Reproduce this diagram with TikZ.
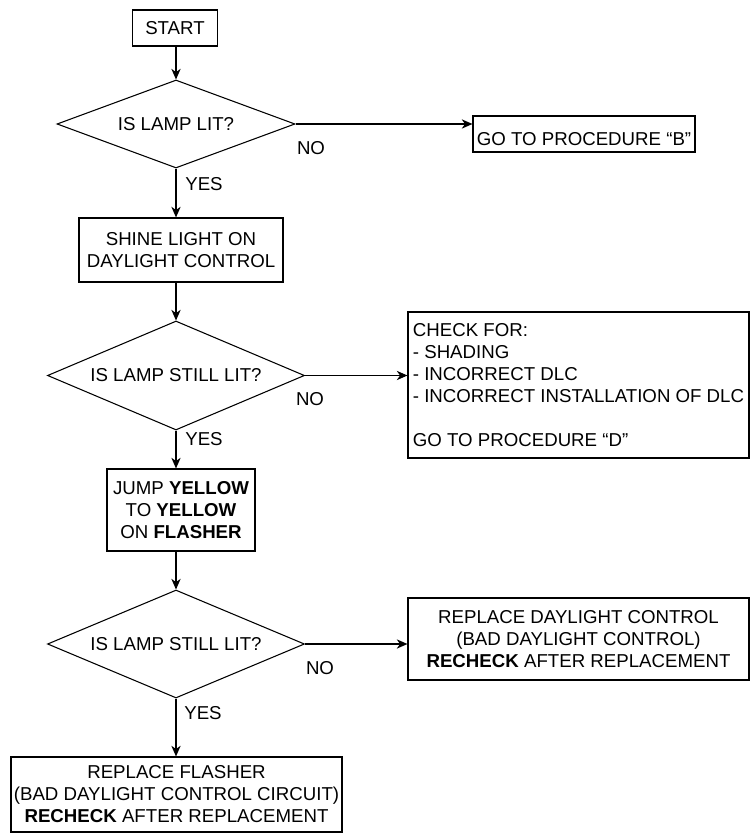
\documentclass[tikz,border=0pt]{standalone}
\usepackage{fontspec}
\setmainfont{Liberation Sans}
\usetikzlibrary{arrows.meta, calc, positioning, shapes.geometric}

\begin{document}
\begin{tikzpicture}[
  x=0.75pt, y=-0.75pt,
  every node/.style={font=\fontsize{14}{16.5}\selectfont, text=black},
  flow/.style={-{Stealth[length=8pt, width=7pt, inset=2.5pt]}, line width=0.8pt},
  stepbox/.style={draw, line width=0.9pt, align=center, inner sep=2pt},
  decision/.style={diamond, draw, line width=0.8pt, inner sep=0pt, align=center},
  answer/.style={inner sep=0pt}
]

\useasboundingbox (0,0) rectangle (750,837);

% start
\node[stepbox, minimum width=63.75pt, minimum height=27pt] (start) at (175,28) {START};

% first test
\node[decision, aspect=2.7, minimum width=178.5pt, minimum height=66pt] (lit) at (176,124) {IS LAMP LIT?};
\node[stepbox, text height=16.8pt, text depth=0pt, minimum width=166.5pt, minimum height=27pt] (procb) at (584,134)
  {GO TO PROCEDURE “B”};

% daylight control test
\node[stepbox, minimum width=153pt, minimum height=48pt] (shine) at (181,250)
  {SHINE LIGHT ON\\DAYLIGHT CONTROL};
\node[decision, aspect=2.36, minimum width=192.75pt, minimum height=81.75pt] (still) at (176,375.5)
  {IS LAMP STILL LIT?};
\node[stepbox, align=left, minimum width=255.75pt, minimum height=109.5pt] (check) at (578.5,385)
  {CHECK FOR:\\
   - SHADING\\
   - INCORRECT DLC\\
   - INCORRECT INSTALLATION OF DLC\\[16.5pt]
   GO TO PROCEDURE “D”};

% flasher test
\node[stepbox, minimum width=111pt, minimum height=61.5pt] (jump) at (181,510)
  {JUMP \textbf{YELLOW}\\TO \textbf{YELLOW}\\ON \textbf{FLASHER}};
\node[decision, aspect=2.38, minimum width=192.75pt, minimum height=81pt] (again) at (176,644)
  {IS LAMP STILL LIT?};
\node[stepbox, minimum width=255.75pt, minimum height=61.5pt] (newdlc) at (578.5,639)
  {REPLACE DAYLIGHT CONTROL\\(BAD DAYLIGHT CONTROL)\\\textbf{RECHECK} AFTER REPLACEMENT};
\node[stepbox, minimum width=248.25pt, minimum height=56.25pt] (newflash) at (176.5,794.5)
  {REPLACE FLASHER\\(BAD DAYLIGHT CONTROL CIRCUIT)\\\textbf{RECHECK} AFTER REPLACEMENT};

% yes / no labels
\node[answer] (no1) at (311,148) {NO};
\node[answer] (yes1) at (204,184) {YES};
\node[answer] (no2) at (310,399) {NO};
\node[answer] (yes2) at (204,439) {YES};
\node[answer] (no3) at (320,668) {NO};
\node[answer] (yes3) at (203,713) {YES};

% connectors
\draw[flow] (start.south -| lit.north) -- (lit.north);
\draw[flow] (lit.east) -- (lit.east -| procb.west);
\draw[flow] (lit.south) -- (lit.south |- shine.north);
\draw[flow] (shine.south -| still.north) -- (still.north);
\draw[flow] (still.east) -- (still.east -| check.west);
\draw[flow] (still.south) -- (still.south |- jump.north);
\draw[flow] (jump.south -| again.north) -- (again.north);
\draw[flow] (again.east) -- (again.east -| newdlc.west);
\draw[flow] (again.south) -- (again.south |- newflash.north);

\end{tikzpicture}
\end{document}
